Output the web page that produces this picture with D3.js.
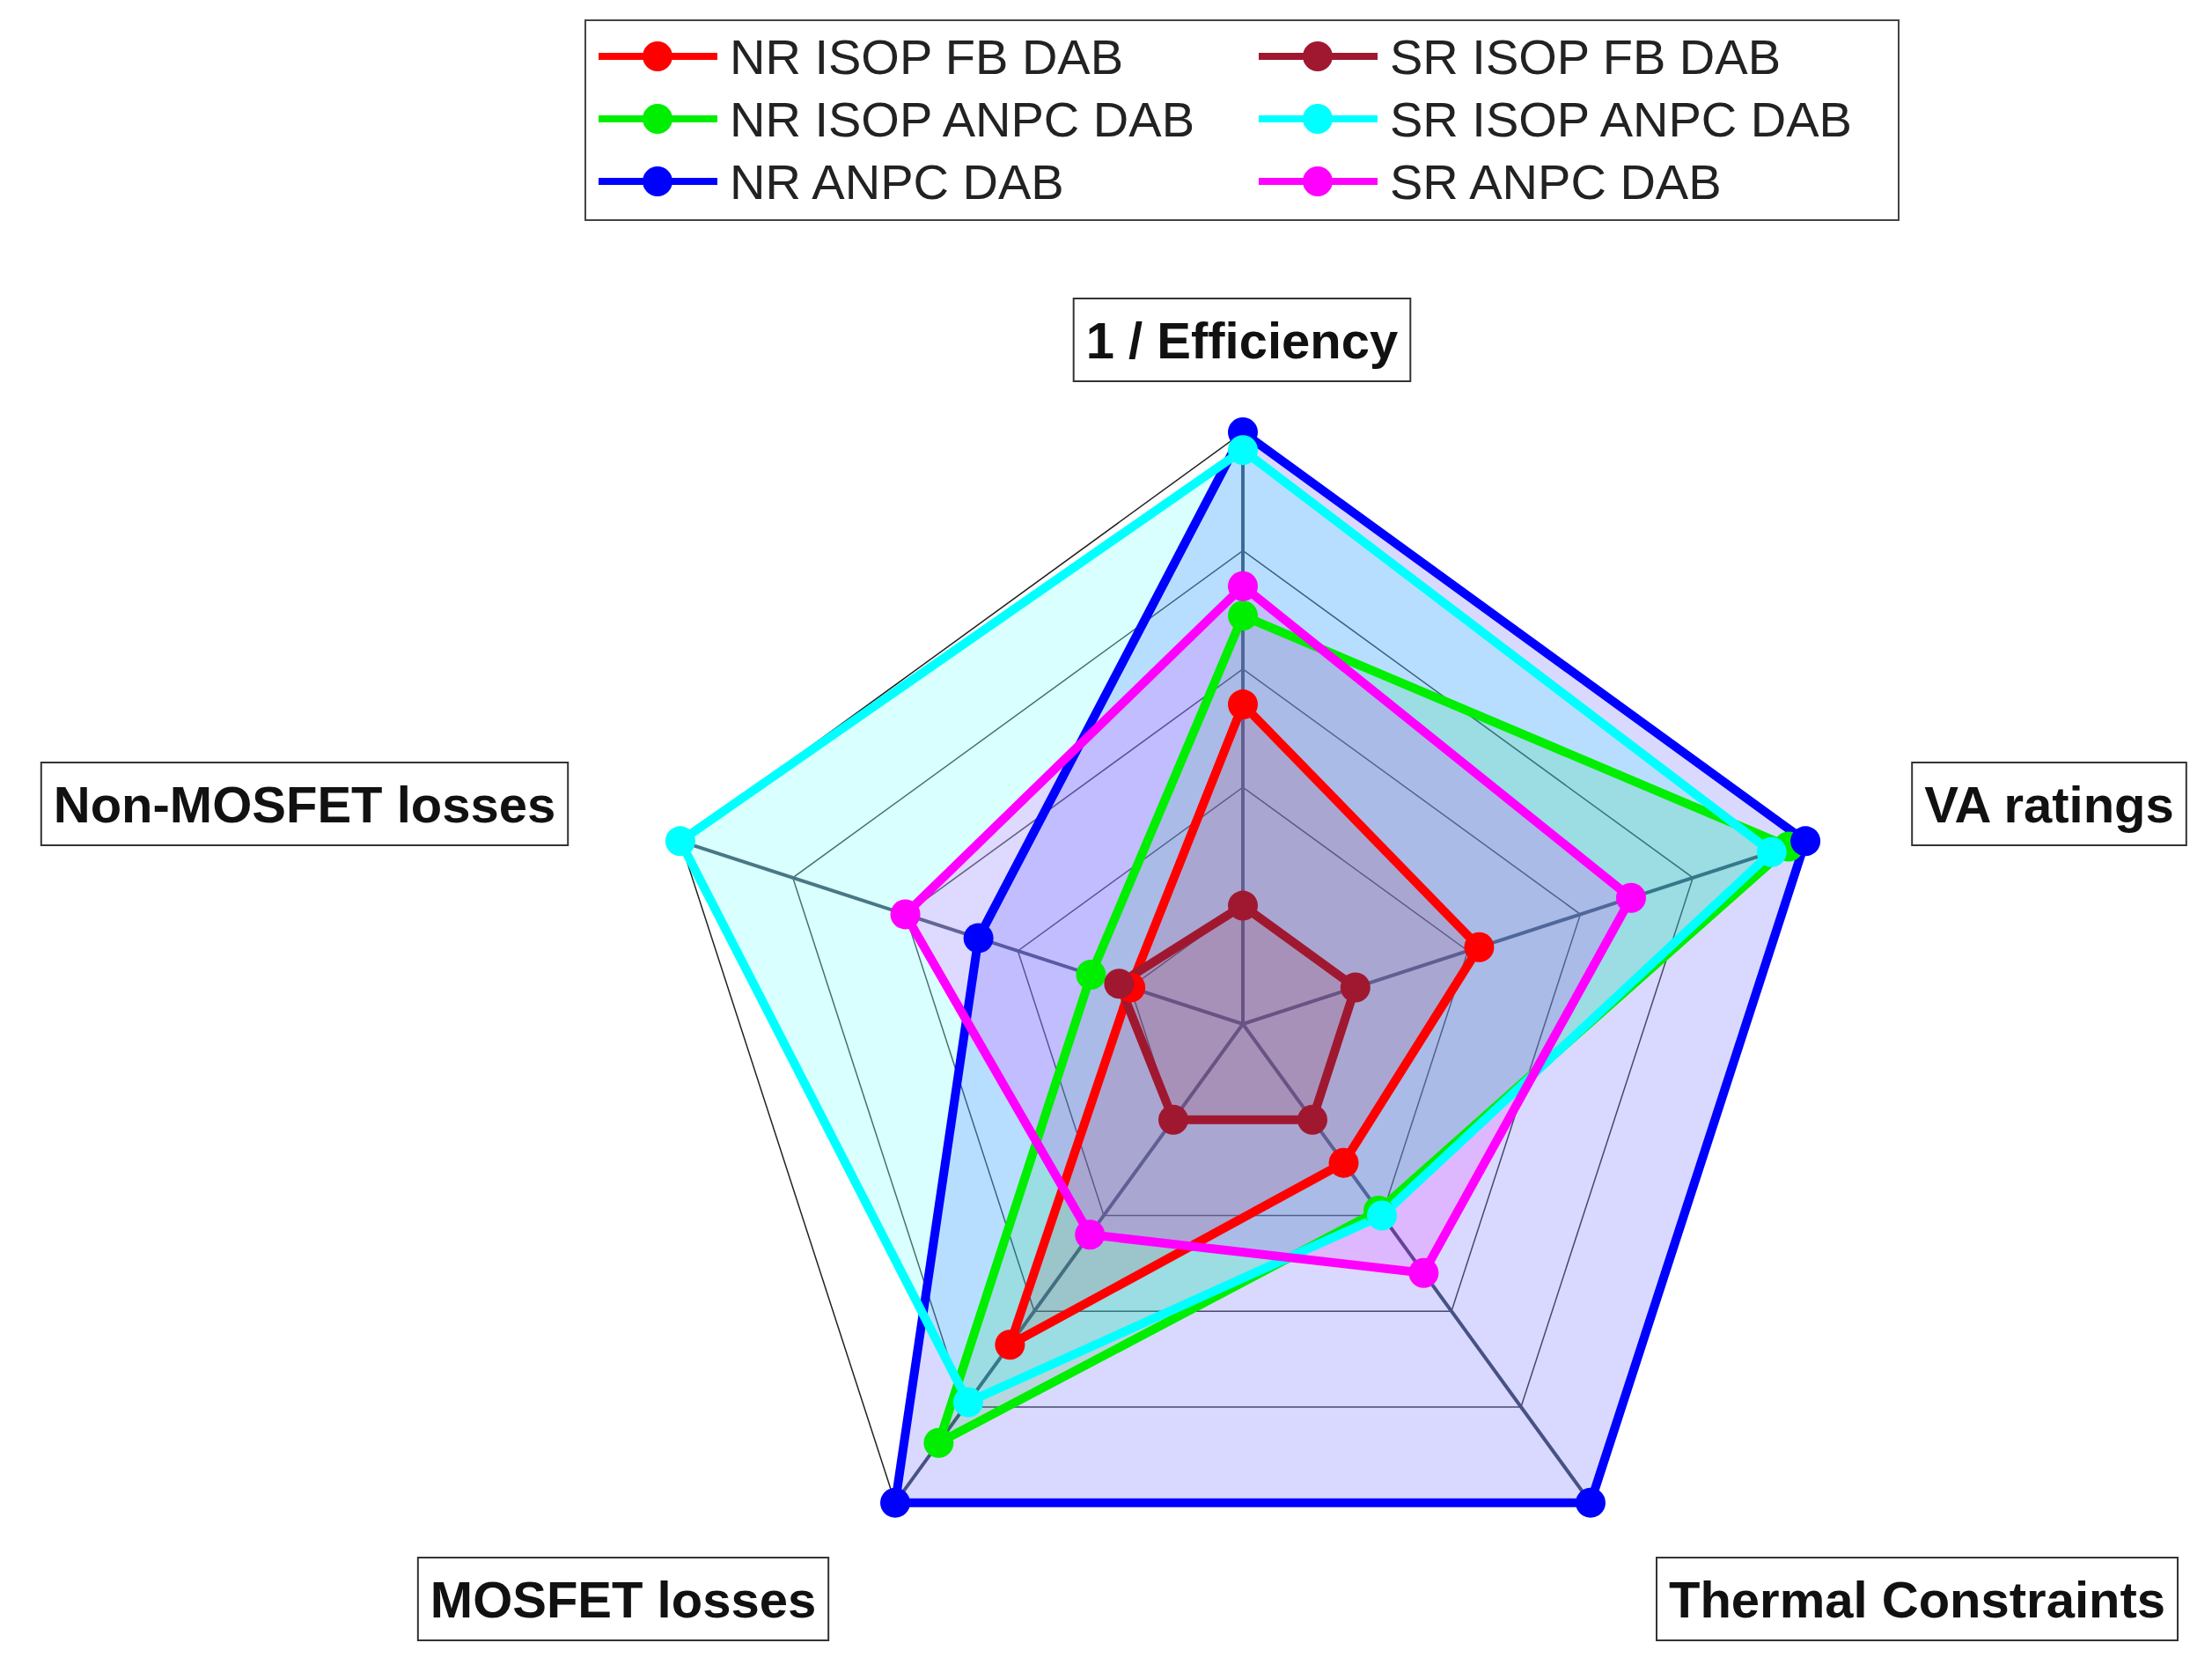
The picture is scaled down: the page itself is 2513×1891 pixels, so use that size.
<!DOCTYPE html>
<html>
<head>
<meta charset="utf-8">
<script src="https://d3js.org/d3.v7.min.js"></script>
<style>
  body { margin: 0; background: #fff; }
  text { font-family: "Liberation Sans", Arial, sans-serif; }
</style>
</head>
<body>
<svg id="chart" width="2513" height="1891"></svg>
<script>
// axes, clockwise from top
var axes = ["1 / Efficiency", "VA ratings", "Thermal Constraints", "MOSFET losses", "Non-MOSFET losses"];
var seriesNames = ["NR ISOP FB DAB", "NR ISOP ANPC DAB", "NR ANPC DAB", "SR ISOP FB DAB", "SR ISOP ANPC DAB", "SR ANPC DAB"];
var seriesColors = ["#ff0000", "#00ee00", "#0000ff", "#a01830", "#00ffff", "#ff00ff"];
var nrIsopFb   = [0.54, 0.42, 0.29, 0.67, 0.20];
var nrIsopAnpc = [0.69, 0.97, 0.39, 0.875, 0.27];
var nrAnpc     = [1.00, 1.00, 1.00, 1.00, 0.47];
var srIsopFb   = [0.20, 0.20, 0.20, 0.20, 0.22];
var srIsopAnpc = [0.97, 0.94, 0.40, 0.79, 1.00];
var srAnpc     = [0.74, 0.69, 0.52, 0.44, 0.60];
var seriesValues = [nrIsopFb, nrIsopAnpc, nrAnpc, srIsopFb, srIsopAnpc, srAnpc];
var gridLevels = [0.2, 0.4, 0.6, 0.8, 1.0];
// draw order (later on top)
var drawOrder = [0, 1, 2, 4, 5, 3];

var svg = d3.select("#chart");
var cx = 1412, cy = 1163, R = 672;

var r = d3.scaleLinear().domain([0, 1]).range([0, R]);
var angle = d3.scaleLinear().domain([0, axes.length]).range([0, 2 * Math.PI]);

function pt(i, v) {
    var a = angle(i);
    return [cx + r(v) * Math.sin(a), cy - r(v) * Math.cos(a)];
}

var g = svg.append("g");

// grid rings
gridLevels.forEach(function (lv) {
    g.append("polygon")
        .attr("points", axes.map(function (d, i) { return pt(i, lv).join(","); }).join(" "))
        .attr("fill", "none")
        .attr("stroke", lv === 1 ? "#222" : "#555")
        .attr("stroke-width", lv === 1 ? 1.5 : 1.5);
});
// spokes
axes.forEach(function (d, i) {
    var p = pt(i, 1);
    g.append("line")
        .attr("x1", cx).attr("y1", cy).attr("x2", p[0]).attr("y2", p[1])
        .attr("stroke", "#556070").attr("stroke-width", 4);
});

var line = d3.lineRadial()
    .angle(function (d, i) { return angle(i); })
    .radius(function (d) { return r(d); })
    .curve(d3.curveLinearClosed);

var plot = svg.append("g").attr("transform", "translate(" + cx + "," + cy + ")");

// fills first
drawOrder.forEach(function (s) {
    plot.append("path")
        .attr("d", line(seriesValues[s]))
        .attr("fill", seriesColors[s])
        .attr("fill-opacity", 0.15)
        .attr("stroke", "none");
});
// lines + markers
drawOrder.forEach(function (s) {
    plot.append("path")
        .attr("d", line(seriesValues[s]))
        .attr("fill", "none")
        .attr("stroke", seriesColors[s])
        .attr("stroke-width", 10)
        .attr("stroke-linejoin", "round");
    seriesValues[s].forEach(function (v, i) {
        var p = pt(i, v);
        svg.append("circle")
            .attr("cx", p[0]).attr("cy", p[1]).attr("r", 17)
            .attr("fill", seriesColors[s]);
    });
});

// axis label boxes
var labelPos = [[1411, 386], [2328, 913], [2178, 1816], [708, 1816], [346, 913]];
axes.forEach(function (d, i) {
    var lg = svg.append("g");
    var t = lg.append("text")
        .attr("x", labelPos[i][0]).attr("y", labelPos[i][1])
        .attr("text-anchor", "middle").attr("dominant-baseline", "central")
        .attr("font-size", 58).attr("font-weight", "bold").attr("fill", "#111")
        .text(d);
    var b = t.node().getBBox();
    lg.insert("rect", "text")
        .attr("x", b.x - 14).attr("y", labelPos[i][1] - 47)
        .attr("width", b.width + 28).attr("height", 94)
        .attr("fill", "#fff").attr("stroke", "#333").attr("stroke-width", 2);
});

// legend
svg.append("rect")
    .attr("x", 665).attr("y", 23).attr("width", 1492).attr("height", 227)
    .attr("fill", "#fff").attr("stroke", "#444").attr("stroke-width", 2);
seriesNames.forEach(function (name, s) {
    var col = Math.floor(s / 3), row = s % 3;
    var x0 = col === 0 ? 680 : 1430;
    var y = 64 + row * 71;
    svg.append("line")
        .attr("x1", x0).attr("x2", x0 + 135).attr("y1", y).attr("y2", y)
        .attr("stroke", seriesColors[s]).attr("stroke-width", 8);
    svg.append("circle").attr("cx", x0 + 67).attr("cy", y).attr("r", 17).attr("fill", seriesColors[s]);
    svg.append("text")
        .attr("x", x0 + 149).attr("y", y)
        .attr("dominant-baseline", "central")
        .attr("font-size", 56).attr("fill", "#222")
        .text(name);
});
</script>
</body>
</html>
